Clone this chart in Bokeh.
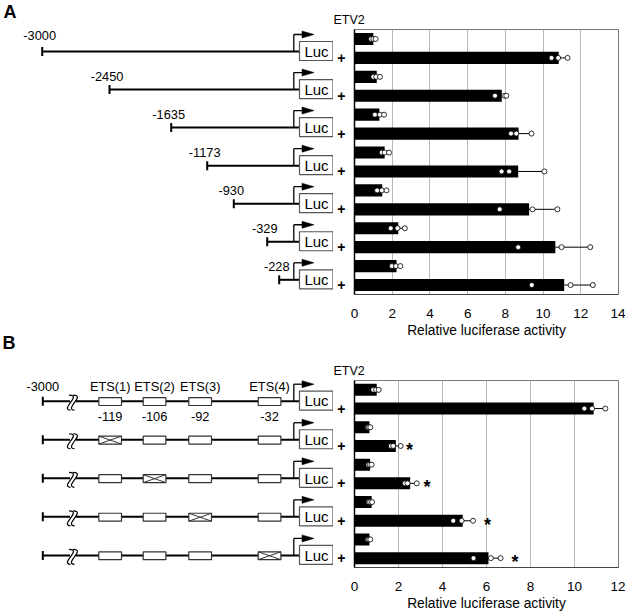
from bokeh.plotting import figure
from bokeh.layouts import row, column
from bokeh.models import Range1d
from bokeh.core.properties import value
from bokeh.embed import file_html
from bokeh.resources import INLINE

FONT = "Liberation Sans"

# ---------------- Panel A data ----------------
a_starts = ["-3000", "-2450", "-1635", "-1173", "-930", "-329", "-228"]
a_etv2 = ["", "+"] * 7
a_mean = [1.00, 10.83, 1.18, 7.81, 1.32, 8.70, 1.60, 8.68, 1.47, 9.26, 2.32, 10.65, 2.23, 11.12]
a_err = [0.12, 0.47, 0.17, 0.24, 0.25, 0.69, 0.23, 1.39, 0.23, 1.50, 0.35, 1.85, 0.20, 1.58]
a_p1 = [0.88, 10.45, 1.00, 7.45, 1.08, 8.30, 1.45, 7.80, 1.20, 7.70, 1.92, 8.68, 1.98, 9.40]
a_p2 = [1.00, 10.80, 1.15, 7.95, 1.35, 8.58, 1.60, 8.20, 1.45, 9.44, 2.28, 10.98, 2.20, 11.46]
a_p3 = [1.12, 11.30, 1.35, 8.05, 1.57, 9.39, 1.83, 10.07, 1.70, 10.76, 2.67, 12.50, 2.43, 12.64]
a_ticks = [0, 2, 4, 6, 8, 10, 12, 14]

# ---------------- Panel B data ----------------
b_sites = ["ETS(1)", "ETS(2)", "ETS(3)", "ETS(4)"]
b_site_pos = ["-119", "-106", "-92", "-32"]
b_mutated = [None, 0, 1, 2, 3]
b_etv2 = ["", "+"] * 5
b_mean = [1.01, 10.87, 0.68, 1.88, 0.71, 2.53, 0.78, 4.92, 0.68, 6.09]
b_err = [0.09, 0.53, 0.04, 0.22, 0.07, 0.30, 0.02, 0.47, 0.04, 0.55]
b_p1 = [0.85, 10.45, 0.60, 1.65, 0.63, 2.29, 0.64, 4.49, 0.60, 5.41]
b_p2 = [0.98, 10.80, 0.66, 1.76, 0.70, 2.41, 0.71, 4.87, 0.66, 6.20]
b_p3 = [1.10, 11.40, 0.72, 2.10, 0.78, 2.83, 0.80, 5.39, 0.72, 6.64]
b_star = ["", "", "", "*", "", "*", "", "*", "", "*"]
b_star_x = [2.50, 3.30, 6.05, 7.30]
b_ticks = [0, 2, 4, 6, 8, 10, 12]

XLABEL = "Relative luciferase activity"
DIAG_W = 333
BAR_W = 292
BORDER_L = 21
BORDER_R = 7


def bar_panel(mean, err, pts, etv2, ticks, height, top, bottom, stars=None, star_x=None):
    n = len(mean)
    xmax = ticks[-1]
    p = figure(width=BAR_W, height=height, x_range=Range1d(0, xmax),
               y_range=Range1d(n - 0.5, -0.5), output_backend="svg",
               toolbar_location=None, min_border_left=BORDER_L,
               min_border_right=BORDER_R, min_border_top=top,
               min_border_bottom=bottom, title="ETV2")
    idx = list(range(n))
    p.hbar(y=idx, left=0, right=mean, height=0.64, fill_color="black",
           line_color=None)
    ends = [m + e for m, e in zip(mean, err)]
    p.segment(x0=mean, y0=idx, x1=ends, y1=idx, line_color="black", line_width=1)
    p.segment(x0=ends, y0=[i - 0.13 for i in idx], x1=ends,
              y1=[i + 0.13 for i in idx], line_color="black", line_width=1)
    for pl in pts:
        p.scatter(x=pl, y=idx, size=5, fill_color="white", line_color="black",
                  line_width=0.8)
    if stars is not None:
        sy = [i for i, s in enumerate(stars) if s]
        st = [s for s in stars if s]
        p.text(x=star_x, y=sy, text=st, text_font=value(FONT),
               text_font_size=value("18px"), text_font_style="bold",
               text_align="center", text_baseline="middle", y_offset=4)

    p.title.align = "left"
    p.title.offset = -BORDER_L
    p.title.standoff = 5
    p.title.text_font = FONT
    p.title.text_font_size = "12.5px"
    p.title.text_font_style = "normal"
    p.title.text_color = "black"

    p.xaxis.ticker = ticks
    p.xgrid.grid_line_color = "#b9b9b9"
    p.ygrid.grid_line_color = None
    p.outline_line_color = "#7a7a7a"
    p.xaxis.axis_line_color = "#444444"
    p.xaxis.major_tick_line_color = None
    p.xaxis.minor_tick_line_color = None
    p.xaxis.major_label_text_font = FONT
    p.xaxis.major_label_text_font_size = "13.5px"
    p.xaxis.major_label_text_color = "black"
    p.xaxis.major_label_standoff = 8
    p.xaxis.axis_label = XLABEL
    p.xaxis.axis_label_text_font = FONT
    p.xaxis.axis_label_text_font_size = "13.8px"
    p.xaxis.axis_label_text_font_style = "normal"
    p.xaxis.axis_label_text_color = "black"
    p.xaxis.axis_label_standoff = 2

    p.yaxis.ticker = [i for i in idx if etv2[i]]
    p.yaxis.major_label_overrides = {i: etv2[i] for i in idx if etv2[i]}
    p.yaxis.axis_line_color = "black"
    p.yaxis.axis_line_width = 1.5
    p.yaxis.major_tick_line_color = None
    p.yaxis.minor_tick_line_color = None
    p.yaxis.major_label_text_font = FONT
    p.yaxis.major_label_text_font_size = "14px"
    p.yaxis.major_label_text_font_style = "bold"
    p.yaxis.major_label_text_color = "black"
    p.yaxis.major_label_standoff = 3
    return p


pa = bar_panel(a_mean, a_err, [a_p1, a_p2, a_p3], a_etv2, a_ticks,
               height=340, top=29, bottom=45)
pb = bar_panel(b_mean, b_err, [b_p1, b_p2, b_p3], b_etv2, b_ticks,
               height=273, top=40, bottom=43, stars=b_star, star_x=b_star_x)

# ---------------- Schematic (left side) ----------------
d = figure(width=DIAG_W, height=613, x_range=Range1d(0, DIAG_W),
           y_range=Range1d(613, 0), output_backend="svg",
           toolbar_location=None, min_border=0,
           x_axis_location=None, y_axis_location=None)
d.grid.visible = False
d.outline_line_color = None


def txt(x, y, s, size="12.8px", align="center", style="normal"):
    d.text(x=[x], y=[y], text=[s], text_font=value(FONT),
           text_font_size=value(size), text_align=align,
           text_baseline="middle", text_font_style=style, text_color="black")


LUC_L, LUC_R, TSS = 299, 332.5, 293.3


def promoter(yl):
    d.segment(x0=[TSS, TSS], y0=[yl, yl - 17], x1=[TSS, 302], y1=[yl - 17, yl - 17],
              line_color="black", line_width=1.3)
    d.patch([301.5, 313.5, 301.5], [yl - 20.5, yl - 17, yl - 13.5],
            fill_color="black", line_color="black", line_width=0.5)
    d.quad(left=[LUC_L], right=[LUC_R], top=[yl - 10], bottom=[yl + 9],
           fill_color="white", line_color="#555555", line_width=1.2)
    txt(316, yl - 0.3, "Luc", size="15px")


# Panel A constructs
a_left = [41.7, 109, 170.7, 206.7, 233.3, 266.7, 278.7]
for i, (lab, lx) in enumerate(zip(a_starts, a_left)):
    yl = 51 + 38.05 * i
    d.segment(x0=[lx], y0=[yl], x1=[LUC_L], y1=[yl], line_color="black", line_width=2)
    d.segment(x0=[lx], y0=[yl - 4.5], x1=[lx], y1=[yl + 4.5], line_color="black", line_width=2)
    promoter(yl)
    txt(lx - 2.5, yl - (16 if i == 0 else 13), lab)

txt(3, 11.5, "A", size="18px", align="left", style="bold")
txt(2, 342, "B", size="18px", align="left", style="bold")

# Panel B constructs
ets_l = [98.3, 142.7, 188.3, 257.7]
ets_w = 22.7
for r, mut in enumerate(b_mutated):
    yl = 400.7 + 38.55 * r
    d.segment(x0=[42.3], y0=[yl], x1=[LUC_L], y1=[yl], line_color="black", line_width=2)
    d.segment(x0=[42.3], y0=[yl - 4.5], x1=[42.3], y1=[yl + 4.5], line_color="black", line_width=2)
    # break mark
    d.quad(left=[69.5], right=[75.5], top=[yl - 2], bottom=[yl + 2],
           fill_color="white", line_color=None)
    for dx in (0, 4):
        d.bezier(x0=[68.5 + dx], y0=[yl - 6], x1=[70 + dx], y1=[yl + 9],
                 cx0=[82 + dx], cy0=[yl - 6], cx1=[59 + dx], cy1=[yl + 8],
                 line_color="black", line_width=1.2)
    for k, bl in enumerate(ets_l):
        d.quad(left=[bl], right=[bl + ets_w], top=[yl - 3.6], bottom=[yl + 4.3],
               fill_color="white", line_color="#333333", line_width=1.2)
        if mut == k:
            d.segment(x0=[bl, bl], y0=[yl - 3.6, yl + 4.3], x1=[bl + ets_w, bl + ets_w],
                      y1=[yl + 4.3, yl - 3.6], line_color="#333333", line_width=1)
    promoter(yl)

txt(42.3, 385.7, "-3000")
for k, bl in enumerate(ets_l):
    txt(bl + ets_w / 2, 385.7, b_sites[k])
    txt(bl + ets_w / 2, 415.7, b_site_pos[k])

layout = row(d, column(pa, pb))
open("out.html", "w").write(file_html(layout, INLINE))
